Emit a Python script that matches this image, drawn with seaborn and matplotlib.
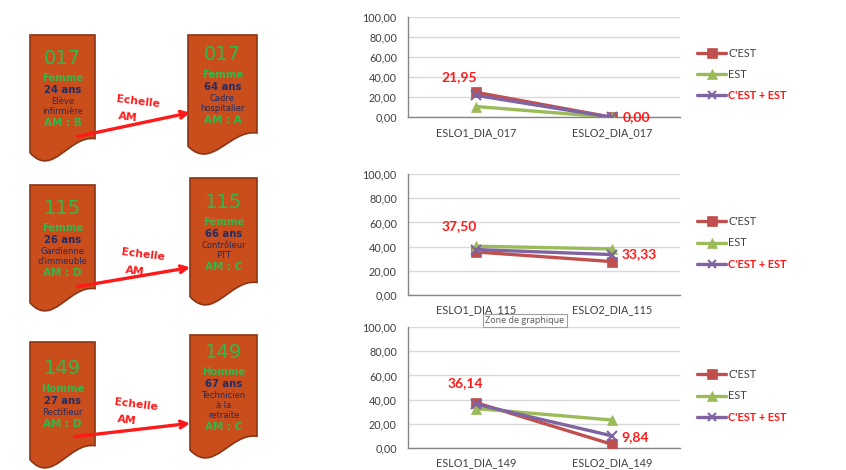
import matplotlib
matplotlib.use("Agg")
import matplotlib.pyplot as plt
from matplotlib.lines import Line2D
from matplotlib.path import Path
from matplotlib.patches import PathPatch, FancyArrowPatch
import pandas as pd
import seaborn as sns

# --- Data ---
speakers = ["017", "115", "149"]
periods = ["ESLO1", "ESLO2"]
series = ["C'EST", "EST", "C'EST + EST"]

cest_values = [[25.0, 0.0], [35.5, 27.5], [37.4, 2.8]]
est_values = [[10.8, 0.0], [40.3, 38.0], [32.5, 23.0]]
combined_values = [[21.95, 0.00], [37.50, 33.33], [36.14, 9.84]]
y_ticks = [0, 20, 40, 60, 80, 100]

genders = ["Femme", "Femme", "Homme"]
ages_eslo1 = ["24 ans", "26 ans", "27 ans"]
ages_eslo2 = ["64 ans", "66 ans", "67 ans"]
jobs_eslo1 = [["Elève", "infirmière"], ["Gardienne", "d'immeuble"], ["Rectifieur"]]
jobs_eslo2 = [["Cadre", "hospitalier"], ["Contrôleur", "PTT"], ["Technicien", "à la", "retraite"]]
am_eslo1 = ["AM : B", "AM : D", "AM : D"]
am_eslo2 = ["AM : A", "AM : C", "AM : C"]

# --- Styles / layout ---
colors = {"C'EST": "#C0504D", "EST": "#9BBB59", "C'EST + EST": "#8064A2"}
markers = {"C'EST": "s", "EST": "^", "C'EST + EST": "x"}
GREY = "#404040"
AXIS = "#868686"
RED = "#FF1A1A"
BOX_FILL = "#C94E1C"
BOX_EDGE = "#8A3515"
GREEN = "#2DBA4A"
NAVY = "#232C63"

W, H = 846, 470
# chart areas in pixels: (left, y of value 0, width, height of 0..100)
chart_px = [(408, 117.3, 272, 100.0), (408, 294.7, 272, 120.4), (408, 447.7, 272, 120.4)]
label_offsets = [[(-17, 18), (24, 0)], [(-17, 23), (27, 0)], [(-11, 21), (23, -1)]]

# left side boxes (x0, x1, top, bottom) for ESLO1 / ESLO2
boxes = [((30, 95, 35, 163), (188, 257, 35, 156)),
         ((30, 95, 185, 313), (190, 257, 178, 307)),
         ((30, 95, 342, 470), (190, 257, 335, 460))]
number_y = [(58, 55), (208, 202), (369, 352)]
arrows = [((75, 137), (193, 112)), ((75, 287), (193, 267)), ((72, 437), (193, 423))]
echelle_pos = [(138, 102, 118, 117), (143, 255, 125, 271), (136, 405, 117, 420)]

sns.set_style("white")
plt.rcParams["font.family"] = ["Lato", "DejaVu Sans"]

fig = plt.figure(figsize=(W / 100, H / 100), dpi=100)


def fmt(v):
    return f"{v:.2f}".replace(".", ",")


for i, spk in enumerate(speakers):
    left, y0, w, h = chart_px[i]
    ax = fig.add_axes([left / W, 1 - y0 / H, w / W, h / H])
    cats = [f"{p}_DIA_{spk}" for p in periods]
    xs = list(range(len(cats)))
    data = {"C'EST": cest_values[i], "EST": est_values[i], "C'EST + EST": combined_values[i]}

    for name in series:
        sns.lineplot(x=xs, y=data[name], color=colors[name], marker=markers[name],
                     linewidth=2.4, markersize=7.5 if name != "C'EST + EST" else 6.5,
                     markeredgewidth=1.5 if name == "C'EST + EST" else 0.5,
                     markeredgecolor=colors[name], ax=ax, zorder=3)

    for j, v in enumerate(combined_values[i]):
        ax.annotate(fmt(v), (xs[j], v), xytext=label_offsets[i][j], textcoords="offset pixels",
                    ha="center", va="center", color=RED, fontsize=10, fontweight="bold")

    ax.set_xlim(-0.5, len(cats) - 0.5)
    ax.set_ylim(0, 100)
    ax.set_yticks(y_ticks)
    ax.set_yticklabels([fmt(t) for t in y_ticks])
    ax.set_xticks(xs)
    ax.set_xticklabels(cats)
    ax.set_xticks([-0.5, 0.5, 1.5], minor=True)
    ax.tick_params(axis="x", which="major", length=0, pad=7, labelsize=7.8, labelcolor=GREY)
    ax.tick_params(axis="x", which="minor", length=4, color=AXIS, direction="out")
    ax.tick_params(axis="y", length=3, color=AXIS, direction="out", pad=5, labelsize=7.8, labelcolor=GREY)
    ax.yaxis.grid(True, color="#D9D9D9", linewidth=1)
    ax.set_axisbelow(True)
    for s in ["top", "right"]:
        ax.spines[s].set_visible(False)
    for s in ["left", "bottom"]:
        ax.spines[s].set_color(AXIS)
        ax.spines[s].set_linewidth(1)

    handles = [Line2D([], [], color=colors[n], marker=markers[n], linewidth=2.4,
                      markersize=7 if n != "C'EST + EST" else 6,
                      markeredgewidth=1.5 if n == "C'EST + EST" else 0.5)
               for n in series]
    leg = ax.legend(handles, series, loc="center left", bbox_to_anchor=(1.0625, 0.43),
                    frameon=False, fontsize=7.8, labelspacing=0.95, handlelength=2.7,
                    handletextpad=0.2, borderpad=0, borderaxespad=0, numpoints=1)
    for k, t in enumerate(leg.get_texts()):
        if series[k] == "C'EST + EST":
            t.set_color(RED)
            t.set_fontweight("bold")
        else:
            t.set_color(GREY)

# --- Left side: speaker profiles ---
bg = fig.add_axes([0, 0, 1, 1])
bg.set_xlim(0, W)
bg.set_ylim(H, 0)
bg.axis("off")
bg.patch.set_visible(False)


def doc_shape(x0, x1, top, bottom):
    w = x1 - x0
    h = bottom - top
    verts = [(x0, top), (x1, top), (x1, top + 0.81 * h),
             (x0 + 0.6 * w, top + 0.78 * h), (x0 + 0.35 * w, top + 1.12 * h), (x0, top + 0.92 * h),
             (x0, top)]
    codes = [Path.MOVETO, Path.LINETO, Path.LINETO, Path.CURVE4, Path.CURVE4, Path.CURVE4,
             Path.CLOSEPOLY]
    bg.add_patch(PathPatch(Path(verts, codes), facecolor=BOX_FILL, edgecolor=BOX_EDGE, linewidth=1.2))


def profile_text(xc, yn, number, gender, age, jobs, am):
    kw = dict(ha="center", va="center", family="DejaVu Sans")
    bg.text(xc, yn, number, color=GREEN, fontsize=14, **kw)
    y = yn + 20
    bg.text(xc, y, gender, color=GREEN, fontsize=7.3, fontweight="bold", **kw)
    y += 12
    bg.text(xc, y, age, color=NAVY, fontsize=7.2, fontweight="bold", **kw)
    y += 11.5
    for line in jobs:
        bg.text(xc, y, line, color=NAVY, fontsize=6, **kw)
        y += 10
    y += 1.5
    bg.text(xc, y, am, color=GREEN, fontsize=7.5, fontweight="bold", **kw)


for i, spk in enumerate(speakers):
    lb, rb = boxes[i]
    doc_shape(*lb)
    doc_shape(*rb)
    profile_text((lb[0] + lb[1]) / 2, number_y[i][0], spk, genders[i], ages_eslo1[i],
                 jobs_eslo1[i], am_eslo1[i])
    profile_text((rb[0] + rb[1]) / 2, number_y[i][1], spk, genders[i], ages_eslo2[i],
                 jobs_eslo2[i], am_eslo2[i])
    start, end = arrows[i]
    bg.add_patch(FancyArrowPatch(start, end, arrowstyle="->", mutation_scale=12,
                                 color=RED, linewidth=2.4, zorder=5))
    ex, ey, ax_, ay = echelle_pos[i]
    bg.text(ex, ey, "Echelle", color=RED, fontsize=7.8, fontweight="bold", ha="center",
            va="center", rotation=-7, family="DejaVu Sans")
    bg.text(ax_, ay, "AM", color=RED, fontsize=7.8, fontweight="bold", ha="left",
            va="center", rotation=-7, family="DejaVu Sans")

# tooltip left over from the screenshot
bg.text(525, 320.5, "Zone de graphique", color="#555555", fontsize=6.5, ha="center", va="center",
        family="Open Sans",
        bbox=dict(boxstyle="square,pad=0.25", facecolor="white", edgecolor="#A0A0A0", linewidth=0.8))

fig.savefig("out.png", dpi=100)
